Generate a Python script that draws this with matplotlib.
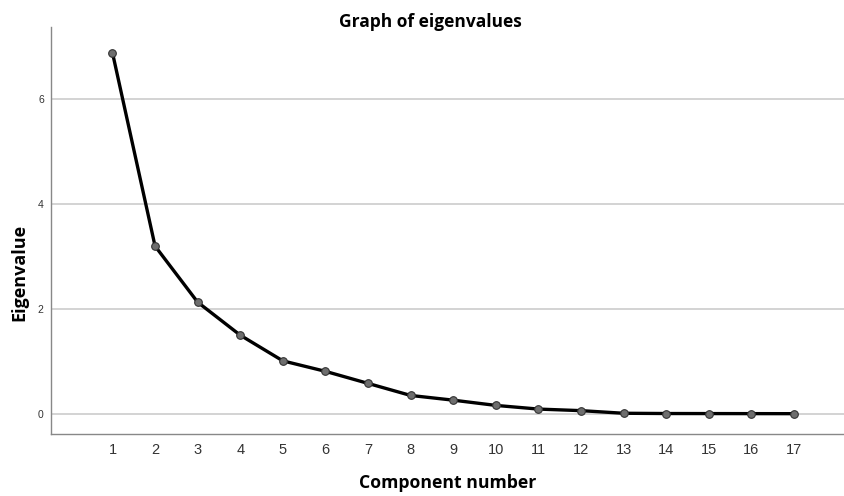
import matplotlib
matplotlib.use('Agg')
import matplotlib.pyplot as plt

components = list(range(1, 18))
eigenvalues = [6.89, 3.20, 2.13, 1.50, 1.01, 0.81, 0.58, 0.35, 0.26,
               0.16, 0.09, 0.06, 0.01, 0.005, 0.004, 0.003, 0.002]

fig = plt.figure(figsize=(8.45, 4.96), dpi=100)
ax = fig.add_axes([0.060, 0.1256, 0.940, 0.82])

ax.plot(components, eigenvalues, color='black', linewidth=2.4, zorder=3,
        marker='o', markersize=5.5, markerfacecolor='#6e6e6e',
        markeredgecolor='#333333', markeredgewidth=0.8)

ax.set_xlim(-0.45, 18.2)
ax.set_ylim(-0.38, 7.38)
ax.set_xticks(components)
ax.set_yticks([0, 2, 4, 6])
ax.yaxis.grid(True, color='#d0d0d0', linewidth=1.3)
ax.set_axisbelow(True)

for s in ['top', 'right']:
    ax.spines[s].set_visible(False)
for s in ['left', 'bottom']:
    ax.spines[s].set_color('#888888')
    ax.spines[s].set_linewidth(1.0)

ax.tick_params(axis='both', length=0, colors='#333333')
ax.tick_params(axis='x', labelsize=10.5, pad=7)
ax.tick_params(axis='y', labelsize=7.5, pad=5)
for lbl in ax.get_xticklabels() + ax.get_yticklabels():
    lbl.set_family('Liberation Sans')

fig.text(0.509, 0.973, 'Graph of eigenvalues', fontsize=12.5,
         fontweight='bold', family='Open Sans', ha='center', va='top')
ax.set_xlabel('Component number', fontsize=12.7, fontweight='bold',
              family='Open Sans', labelpad=12)
ax.set_ylabel('Eigenvalue', fontsize=13, fontweight='bold',
              family='Open Sans')
ax.yaxis.set_label_coords(-0.028, 0.396)

fig.savefig('out.png', dpi=100)
